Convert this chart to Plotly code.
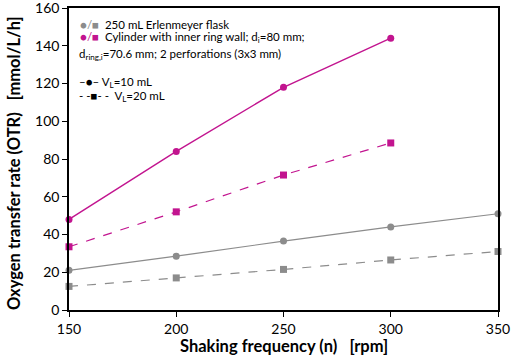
import plotly.graph_objects as go

freq_cyl = [150, 200, 250, 300]
cyl_10 = [48, 84, 118, 144]
cyl_20 = [33.5, 52, 71.5, 88.5]
freq_erl = [150, 200, 250, 300, 350]
erl_10 = [21, 28.5, 36.5, 44, 51]
erl_20 = [12.5, 17, 21.5, 26.5, 31]

x_ticks = [150, 200, 250, 300, 350]
y_ticks = [0, 20, 40, 60, 80, 100, 120, 140, 160]

MAG = "#C2148F"
GRY = "#8C8C8C"

fig = go.Figure()
fig.add_trace(go.Scatter(x=freq_erl, y=erl_20, mode="lines+markers", cliponaxis=False,
                         line=dict(color=GRY, width=1.2, dash="dash"),
                         marker=dict(symbol="square", size=7, color=GRY)))
fig.add_trace(go.Scatter(x=freq_erl, y=erl_10, mode="lines+markers", cliponaxis=False,
                         line=dict(color=GRY, width=1.2),
                         marker=dict(symbol="circle", size=7, color=GRY)))
fig.add_trace(go.Scatter(x=freq_cyl, y=cyl_20, mode="lines+markers", cliponaxis=False,
                         line=dict(color=MAG, width=1.2, dash="dash"),
                         marker=dict(symbol="square", size=7, color=MAG)))
fig.add_trace(go.Scatter(x=freq_cyl, y=cyl_10, mode="lines+markers", cliponaxis=False,
                         line=dict(color=MAG, width=1.4),
                         marker=dict(symbol="circle", size=7, color=MAG)))

FONT = "Lato, Open Sans, sans-serif"
fig.update_layout(
    width=512, height=364,
    margin=dict(l=69, r=14, t=8, b=54, autoexpand=False),
    paper_bgcolor="white", plot_bgcolor="white",
    showlegend=False,
    font=dict(family=FONT, color="black", size=14),
    xaxis=dict(range=[150, 350], tickvals=x_ticks, showgrid=False, zeroline=False,
               automargin=False, ticklabeloverflow="allow",
               showline=True, linecolor="black", linewidth=1.5, mirror=True,
               ticks="outside", ticklen=5, tickcolor="black",
               tickfont=dict(size=14)),
    yaxis=dict(range=[0, 160], tickvals=y_ticks, showgrid=False, zeroline=False,
               automargin=False, ticklabeloverflow="allow",
               showline=True, linecolor="black", linewidth=1.5, mirror=True,
               ticks="outside", ticklen=5, tickcolor="black",
               tickfont=dict(size=14)),
)

def px(xp):
    return (xp - 69) / (498 - 69)
def py(yp):
    return (310 - yp) / (310 - 8)

# axis titles
fig.add_annotation(x=px(284), y=py(346), xref="paper", yref="paper",
                   text="<b>Shaking frequency (n)   [rpm]</b>", showarrow=False,
                   xanchor="center", yanchor="middle", font=dict(family=FONT, size=16.5, color="black"))
fig.add_annotation(x=px(14), y=py(163), xref="paper", yref="paper",
                   text="<b>Oxygen transfer rate (OTR)   [mmol/L/h]</b>", showarrow=False,
                   textangle=-90, xanchor="center", yanchor="middle",
                   font=dict(family=FONT, size=16.5, color="black"))

ann_font = dict(family=FONT, size=11.5, color="black")
def ann(x, y, text):
    fig.add_annotation(x=x, y=y, xref="paper", yref="paper", text=text,
                       showarrow=False, xanchor="left", yanchor="middle", font=ann_font)

ann(px(78), py(24), f'<span style="color:{GRY}">●/■</span>  250 mL Erlenmeyer flask')
ann(px(78), py(38), f'<span style="color:{MAG}">●/■</span>  Cylinder with inner ring wall; d<sub>i</sub>=80 mm;')
ann(px(77), py(54), 'd<sub>ring,i</sub>=70.6 mm; 2 perforations (3x3 mm)')
ann(px(77), py(82), '–●– V<sub>L</sub>=10 mL')
ann(px(77), py(97), '- -■- -  V<sub>L</sub>=20 mL')

fig.write_html("out.html", config={"displayModeBar": False},
               post_script="document.body.style.margin='0';document.body.style.overflow='hidden';")
